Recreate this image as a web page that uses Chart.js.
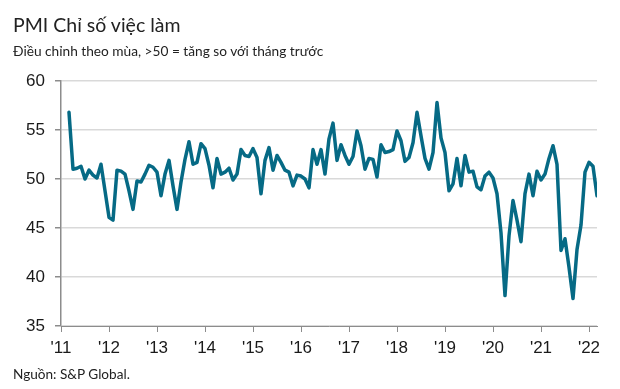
<!DOCTYPE html>
<html>
<head>
<meta charset="utf-8">
<script src="https://cdn.jsdelivr.net/npm/chart.js@4"></script>
<style>
  html, body { margin: 0; padding: 0; background: #fff; }
  #wrap { position: relative; width: 620px; height: 389px; overflow: hidden; }
  #chart { position: absolute; left: 0; top: 0; }
  .txt { position: absolute; left: 13px; font-family: Lato, "Noto Sans", sans-serif; color: #222; white-space: nowrap; }
  #title { top: 13px; font-size: 19.5px; }
  #subtitle { top: 42px; font-size: 13.7px; }
  #source { top: 366px; font-size: 13.6px; }
</style>
</head>
<body>
<div id="wrap">
  <canvas id="chart" width="620" height="389"></canvas>
  <div class="txt" id="title">PMI Chỉ số việc làm</div>
  <div class="txt" id="subtitle">Điều chỉnh theo mùa, &gt;50 = tăng so với tháng trước</div>
  <div class="txt" id="source">Nguồn: S&amp;P Global.</div>
</div>
<script>
// monthly series, first value = Mar 2011 (month 2 counted from Jan 2011)
const startMonth = 2;
const values = [
  56.8, 51.0, 51.1, 51.3, 50.0, 50.9, 50.4, 50.1, 51.5, 48.8,
  46.1, 45.8, 50.9, 50.8, 50.5, 48.8, 46.9, 49.8, 49.7, 50.5, 51.4, 51.2, 50.7, 48.3,
  50.5, 51.9, 49.3, 46.9, 49.7, 52.0, 53.8, 51.5, 51.7, 53.6, 53.1, 51.4,
  49.1, 52.1, 50.5, 50.7, 51.1, 49.9, 50.5, 53.0, 52.4, 52.3, 53.1, 52.2,
  48.5, 51.9, 53.2, 50.9, 52.4, 51.7, 50.9, 50.7, 49.3, 50.4, 50.3, 50.0,
  49.1, 53.0, 51.5, 53.0, 50.5, 54.1, 55.7, 51.9, 53.5, 52.4, 51.5, 52.3,
  54.9, 53.4, 51.0, 52.1, 52.0, 50.2, 53.5, 52.7, 52.8, 53.0, 54.9, 53.9,
  51.8, 52.2, 53.7, 56.8, 54.4, 52.1, 51.0, 52.7, 57.8, 54.2, 52.7, 48.8,
  49.5, 52.1, 49.3, 52.4, 50.7, 50.8, 49.2, 48.9, 50.3, 50.7, 50.1, 48.5,
  44.5, 38.1, 44.2, 47.8, 45.8, 43.6, 48.5, 50.5, 48.3, 50.8, 49.9, 50.5,
  52.1, 53.4, 51.5, 42.7, 43.9, 41.0, 37.8, 42.8, 45.3, 50.7, 51.7, 51.3,
  48.3
];
const yearLabels = ["'11", "'12", "'13", "'14", "'15", "'16", "'17", "'18", "'19", "'20", "'21", "'22"];
const yTicks = [35, 40, 45, 50, 55, 60];

const points = values.map((v, i) => ({ x: startMonth + i, y: v }));
const tickFont = { family: "'Liberation Sans', Arial, sans-serif", size: 17 };

new Chart(document.getElementById('chart'), {
    type: 'line',
    data: {
        datasets: [{
            data: points,
            borderColor: '#066a85',
            borderWidth: 3.5,
            pointRadius: 0,
            tension: 0,
            borderJoinStyle: 'round',
            borderCapStyle: 'round'
        }]
    },
    options: {
        responsive: false,
        animation: false,
        devicePixelRatio: 1,
        layout: { padding: { top: 81, right: 23, bottom: 0, left: 0 } },
        plugins: { legend: { display: false }, tooltip: { enabled: false } },
        scales: {
            x: {
                type: 'linear',
                min: 0,
                max: startMonth + values.length - 1,
                afterFit: s => { s.height = 63; },
                afterBuildTicks: s => { s.ticks = yearLabels.map((_, i) => ({ value: i * 12 })); },
                ticks: {
                    color: '#1a1a1a', font: tickFont, padding: 6, maxRotation: 0, autoSkip: false,
                    callback: v => yearLabels[v / 12]
                },
                grid: { drawOnChartArea: false, drawTicks: true, tickLength: 6, color: '#8c8c8c' },
                border: { color: '#8c8c8c', width: 1 }
            },
            y: {
                min: yTicks[0],
                max: yTicks[yTicks.length - 1],
                afterFit: s => { s.width = 61; },
                afterBuildTicks: s => { s.ticks = yTicks.map(v => ({ value: v })); },
                ticks: { color: '#1a1a1a', font: tickFont, padding: 10 },
                grid: { color: '#d9d9d9', lineWidth: 1.5, tickColor: '#8c8c8c', tickLength: 6 },
                border: { color: '#8c8c8c', width: 1.5 }
            }
        }
    }
});
</script>
</body>
</html>
